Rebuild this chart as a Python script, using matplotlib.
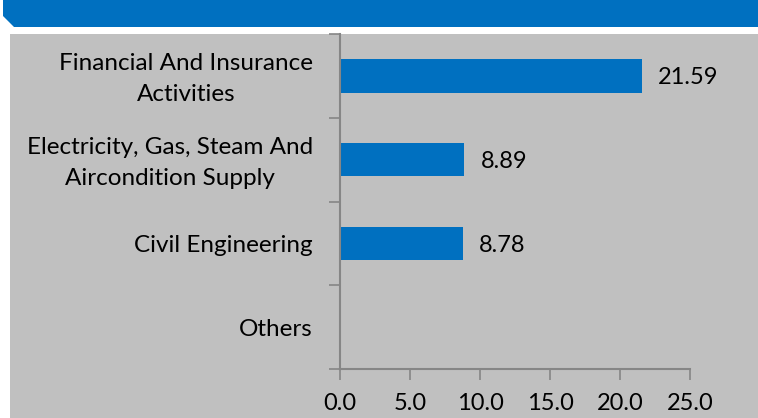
import matplotlib.pyplot as plt
import matplotlib.transforms as mtrans
from matplotlib.patches import Polygon, Rectangle

# data, top to bottom
categories = [
    "Financial And Insurance\nActivities",
    "Electricity, Gas, Steam And\nAircondition Supply",
    "Civil Engineering",
    "Others",
]
values = [21.59, 8.89, 8.78, None]
x_ticks = [0, 5, 10, 15, 20, 25]

BLUE = "#0070C0"
GRAY_BG = "#C0C0C0"
AXIS = "#868686"

plt.rcParams["font.family"] = ["Lato", "DejaVu Sans"]

W, H = 758, 418
fig = plt.figure(figsize=(W / 100, H / 100), dpi=100, facecolor="white")

# header banner with clipped corner + grey panel (pixel coords, y from top)
def px(x, y):
    return (x / W, 1 - y / H)

fig.patches.append(Polygon([px(3, 0), px(W, 0), px(W, 27), px(14, 27), px(3, 16)],
                           closed=True, transform=fig.transFigure,
                           facecolor=BLUE, edgecolor="none", zorder=-5))
fig.patches.append(Rectangle(px(10, H), (W - 10) / W, (H - 34) / H,
                             transform=fig.transFigure,
                             facecolor=GRAY_BG, edgecolor="none", zorder=-5))

ax = fig.add_axes([340 / W, 1 - 369 / H, 350 / W, 335 / H])
ax.set_facecolor("none")
ax.set_zorder(2)

n = len(categories)
for i, v in enumerate(values):
    if v is None:
        continue
    ax.barh(i, v, height=0.4, color=BLUE, zorder=2)
    ax.text(v + 1.15, i + 0.02, f"{v:.2f}", va="center", ha="left", fontsize=17)

ax.set_ylim(n - 0.5, -0.5)
ax.set_xlim(0, 25)

# tick marks at category boundaries (Excel style), labels drawn as text
ax.set_yticks([p + 0.5 for p in range(-1, n)])
ax.set_yticklabels([])
ax.tick_params(axis="y", length=8, width=1.2, color=AXIS)

for i, cat in enumerate(categories):
    dy = 4 if "\n" in cat else 0
    tr = ax.get_yaxis_transform() + mtrans.ScaledTranslation(
        -27 / 100, dy / 100, fig.dpi_scale_trans)
    ax.text(0, i, cat, transform=tr, ha="right", va="center_baseline",
            multialignment="center", fontsize=17.5, linespacing=1.6)

ax.set_xticks(x_ticks)
ax.set_xticklabels([f"{t:.1f}" for t in x_ticks], fontsize=17)
ax.tick_params(axis="x", length=8, width=1.2, color=AXIS, pad=9)

for side in ["top", "right"]:
    ax.spines[side].set_visible(False)
for side in ["left", "bottom"]:
    ax.spines[side].set_color(AXIS)
    ax.spines[side].set_linewidth(1.5)

fig.savefig("out.png", dpi=100, facecolor="white")
